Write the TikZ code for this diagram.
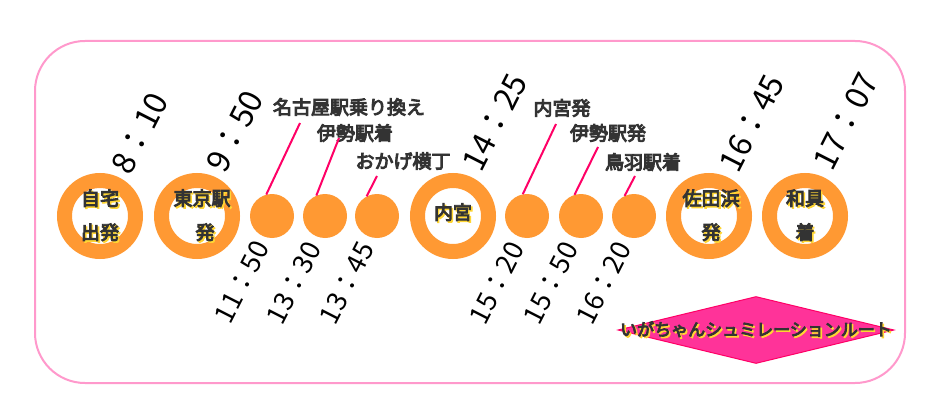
\documentclass[tikz,border=0pt]{standalone}
\usepackage{fontspec}
\setmainfont{Noto Sans CJK JP}
\newfontfamily\heavycjk{Noto Sans CJK JP}[FakeBold=5]
\usepackage{xcolor}
\usetikzlibrary{shapes.geometric,calc}

\definecolor{routeorange}{HTML}{FF9933}
\definecolor{framepink}{HTML}{FF99CC}
\definecolor{leaderpink}{HTML}{FF0066}
\definecolor{diamondpink}{HTML}{FF3399}
\definecolor{labelgray}{HTML}{333333}
\definecolor{glowyellow}{HTML}{FFD633}

% dark text with a yellow drop shadow
\newcommand{\glowtxt}[1]{\leavevmode\rlap{\kern1.6pt\raisebox{-1.6pt}{\textcolor{glowyellow}{#1}}}#1}

\begin{document}
\begin{tikzpicture}[x=1pt, y=-1pt,
    ring/.style={circle, draw=routeorange, line width=15pt, fill=white, minimum size=71pt, inner sep=0pt},
    stopdot/.style={circle, fill=routeorange, minimum size=44pt, inner sep=0pt},
    timelbl/.style={rotate=63, font=\fontsize{#1}{#1}\selectfont, text=black, inner sep=0pt},
    timelbl/.default=27,
    stoplbl/.style={font=\heavycjk\fontsize{19}{20}\selectfont, text=labelgray, inner sep=0pt},
    ringtxt/.style={font=\heavycjk\fontsize{19}{34}\selectfont, text=labelgray, align=center, inner sep=0pt},
    leader/.style={draw=leaderpink, line width=2pt}]

    % Canvas and frame
    \fill[white] (0,0) rectangle (939,409);
    \useasboundingbox (0,0) rectangle (939,409);
    \draw[framepink, line width=2pt, rounded corners=50pt] (35,41) rectangle (905,383);

    % Big stops (rings)
    \node[ring] (home) at (100,216) {};
    \node[ring] (tokyo) at (197,216) {};
    \node[ring] (naiku) at (453,216) {};
    \node[ring] (satahama) at (709,216) {};
    \node[ring] (wagu) at (805,216) {};

    \node[ringtxt] (hometxt) at (home.center) {\glowtxt{自宅}\\\glowtxt{出発}};
    \node[ringtxt, xshift=5pt] (tokyotxt) at (tokyo.center) {\glowtxt{東京駅}\\\hspace*{6pt}\glowtxt{発}};
    \node[ringtxt, yshift=3pt] (naikutxt) at (naiku.center) {\glowtxt{内宮}};
    \node[ringtxt, xshift=2pt] (satahamatxt) at (satahama.center) {\glowtxt{佐田浜}\\\glowtxt{発}};
    \node[ringtxt] (wagutxt) at (wagu.center) {\glowtxt{和具}\\\glowtxt{着}};

    % Small stops (dots)
    \node[stopdot] (s1) at (272,216) {};
    \node[stopdot] (s2) at (325,216) {};
    \node[stopdot] (s3) at (377,216) {};
    \node[stopdot] (s4) at (527,216) {};
    \node[stopdot] (s5) at (581,216) {};
    \node[stopdot] (s6) at (634,216) {};

    % Stop names above the dots
    \node[stoplbl] (nagoya) at (349,107) {名古屋駅乗り換え};
    \node[stoplbl] (iseArr) at (355,133) {伊勢駅着};
    \node[stoplbl] (okage) at (403,161) {おかげ横丁};
    \node[stoplbl] (naikuDep) at (562,108) {内宮発};
    \node[stoplbl] (iseDep) at (608,133) {伊勢駅発};
    \node[stoplbl] (tobaArr) at (643,162) {鳥羽駅着};

    % Leader ends under the names
    \coordinate (l1top) at (300,123);
    \coordinate (l2top) at (339,138);
    \coordinate (l3top) at (377,176);
    \coordinate (l4top) at (556,124);
    \coordinate (l5top) at (598,147);
    \coordinate (l6top) at (635,176);

    \draw[leader] (s1.105) -- (l1top);
    \draw[leader] (s2.113) -- (l2top);
    \draw[leader] (s3.118) -- (l3top);
    \draw[leader] (s4.101) -- (l4top);
    \draw[leader] (s5.107) -- (l5top);
    \draw[leader] (s6.115) -- (l6top);

    % Times above the rings
    \node[timelbl=32] (t1) at (140,133) {8：10};
    \node[timelbl=32] (t2) at (235,131) {9：50};
    \node[timelbl=32] (t6) at (495,122) {14：25};
    \node[timelbl=32] (t10) at (752,123) {16：45};
    \node[timelbl=32] (t11) at (846,121) {17：07};

    % Times below the dots
    \node[timelbl] (t3) at (242,282) {11：50};
    \node[timelbl] (t4) at (294,283) {13：30};
    \node[timelbl] (t5) at (347,283) {13：45};
    \node[timelbl] (t7) at (497,283) {15：20};
    \node[timelbl] (t8) at (551,283) {15：50};
    \node[timelbl] (t9) at (604,283) {16：20};

    % Title badge
    \node[diamond, fill=diamondpink, draw=leaderpink, line width=1pt, shape aspect=4.1,
          minimum width=276pt, minimum height=67pt, inner sep=0pt] (badge) at (756,330) {};
    \node[stoplbl, font=\heavycjk\fontsize{17}{18}\selectfont] (badgetxt) at (badge.center)
          {\glowtxt{いがちゃんシュミレーションルート}};
\end{tikzpicture}
\end{document}
